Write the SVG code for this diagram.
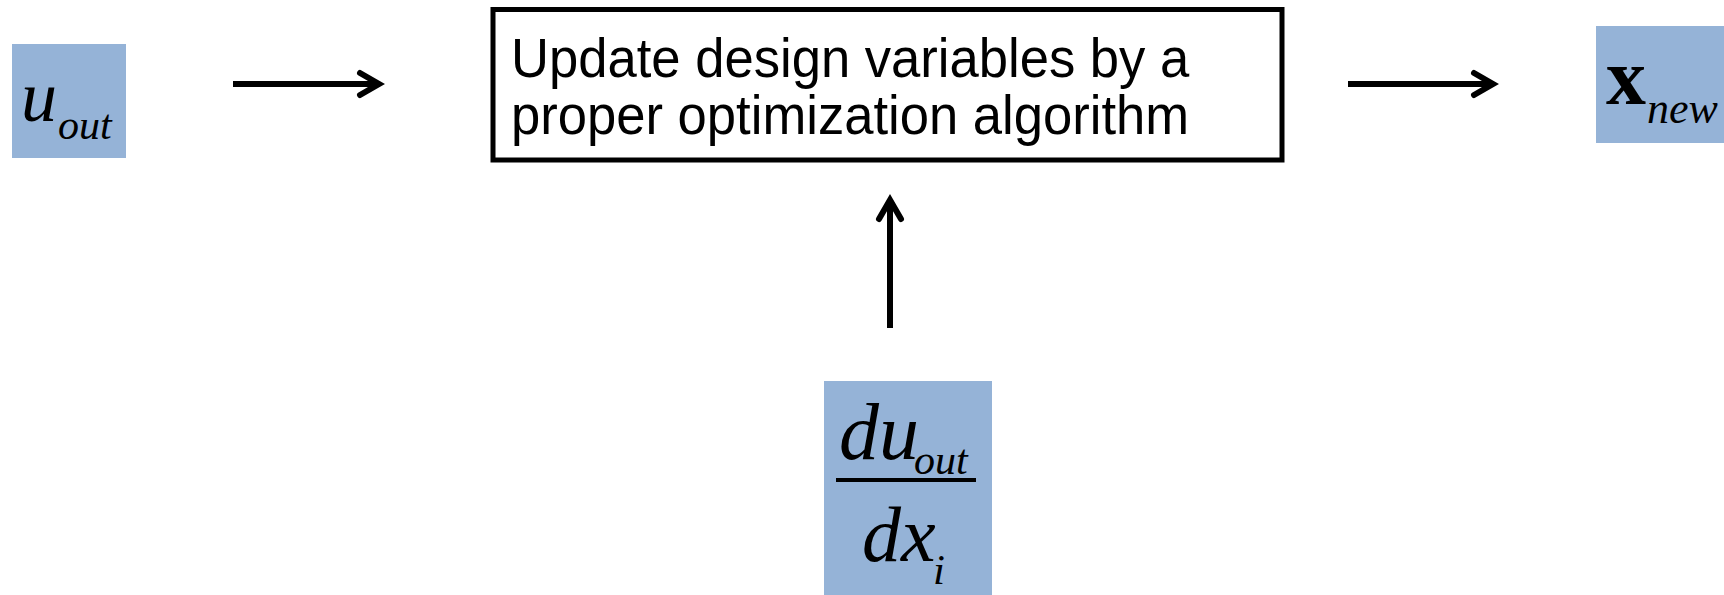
<svg xmlns="http://www.w3.org/2000/svg" width="1724" height="595" viewBox="0 0 1724 595">
  <style>
    .var { fill: #95B3D7; }
    .math { font-family: "Liberation Serif", "Times New Roman", serif; font-style: italic; fill: #000; }
    .bold { font-family: "Liberation Serif", "Times New Roman", serif; font-weight: bold; fill: #000; }
    .lbl { font-family: "Liberation Sans", Arial, sans-serif; font-size: 52.6px; fill: #000; }
    .conn { stroke: #000; stroke-width: 6; fill: none; }
  </style>
  <defs>
    <marker id="arr" markerUnits="userSpaceOnUse" viewBox="-30 -20 40 40" refX="0" refY="0" markerWidth="40" markerHeight="40" orient="auto" overflow="visible">
      <path d="M-20,-11 L-1,0 L-20,11" fill="none" stroke="#000" stroke-width="6" stroke-linecap="round" stroke-linejoin="miter"/>
    </marker>
  </defs>

  <g id="connectors">
    <line class="conn" x1="233" y1="84" x2="380" y2="84" marker-end="url(#arr)"/>
    <line class="conn" x1="1348" y1="84" x2="1494" y2="84" marker-end="url(#arr)"/>
    <line class="conn" x1="890" y1="328" x2="890" y2="199" marker-end="url(#arr)"/>
  </g>

  <g id="node-uout">
    <rect class="var" x="12" y="44" width="114" height="114"/>
    <text class="math" x="21" y="121" font-size="72">u</text>
    <text class="math" x="58" y="139" font-size="42">out</text>
  </g>

  <g id="node-update">
    <rect x="493" y="9.5" width="789" height="150.5" fill="#fff" stroke="#000" stroke-width="5"/>
    <text class="lbl" transform="translate(511,77) scale(1,1.06)">Update design variables by a</text>
    <text class="lbl" transform="translate(511,134) scale(1,1.06)">proper optimization algorithm</text>
  </g>

  <g id="node-xnew">
    <rect class="var" x="1596" y="26" width="128" height="117"/>
    <text class="bold" x="1606" y="104" font-size="80">x</text>
    <text class="math" x="1647" y="123" font-size="44">new</text>
  </g>

  <g id="node-deriv">
    <rect class="var" x="824" y="381" width="168" height="214"/>
    <text class="math" x="839" y="459" font-size="80">du</text>
    <text class="math" x="914" y="474" font-size="42">out</text>
    <line x1="836" y1="480" x2="976" y2="480" stroke="#000" stroke-width="4"/>
    <text class="math" x="862" y="561" font-size="78">dx</text>
    <text class="math" x="933" y="584" font-size="43">i</text>
  </g>
</svg>
